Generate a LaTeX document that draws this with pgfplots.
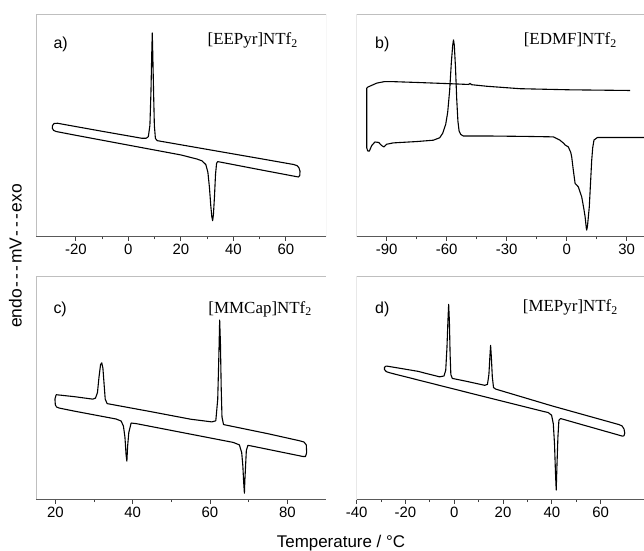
\documentclass[border=0pt]{standalone}
\usepackage{fontspec}
\setmainfont{Liberation Sans}
\newfontfamily\timesf{Liberation Serif}
\usepackage{pgfplots}
\pgfplotsset{compat=1.18}
\pgfplotsset{
  dsc/.style={
    width=290bp, height=223bp, scale only axis,
    ymin=0, ymax=100, ytick=\empty,
    xtick pos=bottom, tick align=outside,
    minor x tick num=1,
    major tick length=4bp, minor tick length=2.5bp,
    tick style={black!75, line width=0.8bp},
    axis line style={draw=none},
    /pgf/number format/assume math mode=true,
    xticklabel style={font=\fontsize{15}{15}\selectfont, black},
    anchor=south west,
  },
  curve/.style={black, line width=1.1bp, line join=round, mark=none},
}
\newcommand{\dscframe}{%
  \draw[gray!50, line width=0.9bp] (rel axis cs:0,0) -- (rel axis cs:0,1) -- (rel axis cs:1,1) -- (rel axis cs:1,0);
  \draw[black!65, line width=1bp] (rel axis cs:0,0) -- (rel axis cs:1,0);
}
\newcommand{\ddd}{\kern1.5bp-\kern2.5bp-\kern2.5bp-\kern1.5bp}
\begin{document}
\begin{tikzpicture}
\useasboundingbox (0bp,0bp) rectangle (644bp,551bp);

% ---------- a) [EEPyr]NTf2
\begin{axis}[dsc, at={(36bp,314bp)}, xmin=-35.2, xmax=75.3, xtick={-20,0,20,40,60}]
\dscframe
\addplot[curve] coordinates {
(-27.0,51.0) (-10,47.4) (5,44.3) (6.8,44.3) (7.6,45.0) (8.2,50) (8.6,65) (8.9,82) (9.1,91.5)
(9.3,82) (9.6,65) (9.9,50) (10.3,44.2) (11,43.2) (30,39.3) (50,35.2) (63.0,32.5)
(64.3,32.0) (65.0,31.0) (65.4,29.5) (65.3,27.6) (64.8,26.9)
(50,30.2) (35,33.6) (34.0,33.8) (33.6,33.0) (33.2,28) (32.8,18) (32.4,10) (32.1,7.3)
(31.8,9) (31.4,14) (30.9,22) (30.3,29) (29.5,32.5) (28.0,34.2) (26,35.0) (20,36.8)
(0,41.2) (-20,45.6) (-27.5,47.3) (-28.5,47.8) (-29.0,48.8) (-28.9,50.0) (-28.3,50.9) (-27.0,51.0)
};
\end{axis}

% ---------- b) [EDMF]NTf2
\begin{axis}[dsc, at={(356.7bp,314bp)}, xmin=-105, xmax=40, xtick={-90,-60,-30,0,30}]
\dscframe
\addplot[curve] coordinates {
(31.65,65.7) (1.65,66.0) (-23.35,66.5) (-40,67.6) (-47.6,68.3) (-48.35,68.9) (-49.0,68.4)
(-60,68.8) (-75,69.3) (-88,69.7) (-91,69.7) (-95,69.0) (-98,67.8) (-99.5,67.2) (-100,66.7)
(-100,50) (-100,40) (-99.5,38.6) (-98.7,38.5) (-97.5,41) (-95.9,42.6) (-94,42.4) (-92.5,41)
(-91.4,40.4) (-90,41.6) (-86.7,42.2) (-75,42.8) (-66.7,43.4) (-63.5,44.5) (-62.0,46.5)
(-60.5,50.5) (-59.5,56) (-58.5,66) (-57.7,78) (-57.0,86) (-56.6,88.4) (-56.2,86) (-55.6,76)
(-55.0,62) (-54.4,52) (-53.8,47.5) (-53.0,46.0) (-51.7,45.3) (-40,45.3) (-20,45.1) (-6.7,44.9)
(-3.35,43.4) (-1.5,42) (-0.85,41.3) (0.8,40.4) (2.0,38) (2.5,35.9) (3.3,30) (4.2,24.0)
(5.8,22.5) (7.5,18.0) (8.5,13) (9.2,9.1) (9.8,4) (10.0,3.1) (10.4,5) (11.3,13.6) (12.5,34.4)
(13.0,40) (13.65,43.5) (15.3,44.6) (40,44.6)
};
\end{axis}

% ---------- c) [MMCap]NTf2
\begin{axis}[dsc, at={(36bp,51.5bp)}, xmin=15, xmax=90, xtick={20,40,60,80}]
\dscframe
\addplot[curve] coordinates {
(20.2,47.0) (25,46.1) (29.7,45.0) (30.4,45.5) (30.9,48) (31.3,55) (31.7,60.5) (32.0,61.3)
(32.3,59) (32.6,52) (32.9,45) (33.4,43.0) (45,39.3) (55,36.0) (60.5,34.8) (61.5,35.3)
(62.0,45) (62.3,65) (62.5,80.5) (62.7,70) (62.9,50) (63.1,37) (63.5,33.6) (75,29.5) (83,26.4)
(84.3,25.8) (84.9,24.5) (85.0,21) (84.7,19.3) (84.0,19.3)
(71,23.9) (69.8,24.3) (69.4,22) (69.2,15) (69.0,8) (68.9,2.8) (68.7,8) (68.5,15) (68.2,21)
(67.6,24.5) (66,25.6) (41,34.0) (39.6,34.3) (39.0,30) (38.7,24) (38.5,17.2) (38.3,20)
(38.0,28) (37.6,33) (37,35.2) (35.7,36.1) (25,39.6) (21,41.0) (20.3,41.5) (20.0,42.5)
(19.9,45) (20.2,47.0)
};
\end{axis}

% ---------- d) [MEPyr]NTf2
\begin{axis}[dsc, at={(356.7bp,51.5bp)}, xmin=-40, xmax=78.9, xtick={-40,-20,0,20,40,60}]
\dscframe
\addplot[curve] coordinates {
(-27.5,59.8) (-15,57.5) (-6,55.0) (-4.2,55.4) (-3.5,58) (-3.0,68) (-2.6,80) (-2.3,87.5)
(-2.0,80) (-1.7,65) (-1.4,56) (-0.8,54.3) (5,53.0) (12.5,51.2) (13.6,51.6) (14.2,56)
(14.6,64) (14.9,69.1) (15.2,64) (15.6,55) (16.1,50.2) (17,49.5) (40,42) (67.5,33.6)
(68.8,33.0) (69.6,31.6) (69.9,29.8) (69.6,28.6) (69.0,28.4)
(50,34.3) (43.6,36.3) (42.9,35.5) (42.5,28) (42.1,15) (41.8,4.2) (41.5,12) (41.1,25)
(40.6,34) (39.9,37.8) (38.5,39.0) (36.5,39.5) (20,44.0) (0,49.5) (-26.4,56.8) (-27.8,57.3)
(-28.6,58.2) (-28.6,59.3) (-28.0,59.8) (-27.5,59.8)
};
\end{axis}

% ---------- panel texts
\begin{scope}[every node/.style={inner sep=0pt}]
\node[anchor=base west, font=\fontsize{16}{16}\selectfont] at (53.3bp,502.7bp) {a)};
\node[anchor=base east, font=\timesf\fontsize{17}{17}\selectfont] at (298bp,506bp) {[EEPyr]NTf\textsubscript{2}};
\node[anchor=base west, font=\fontsize{16}{16}\selectfont] at (375bp,502.7bp) {b)};
\node[anchor=base east, font=\timesf\fontsize{17}{17}\selectfont] at (617bp,506bp) {[EDMF]NTf\textsubscript{2}};
\node[anchor=base west, font=\fontsize{16}{16}\selectfont] at (53.3bp,237.7bp) {c)};
\node[anchor=base east, font=\timesf\fontsize{17}{17}\selectfont] at (312bp,237.7bp) {[MMCap]NTf\textsubscript{2}};
\node[anchor=base west, font=\fontsize{16}{16}\selectfont] at (375bp,237.7bp) {d)};
\node[anchor=base east, font=\timesf\fontsize{17}{17}\selectfont] at (618bp,239.3bp) {[MEPyr]NTf\textsubscript{2}};
\node[anchor=base, font=\fontsize{17}{17}\selectfont] at (341bp,4bp) {Temperature / °C};
\node[anchor=base, rotate=90, font=\fontsize{17.5}{17.5}\selectfont] at (21.7bp,295bp) {endo\ddd mV\ddd exo};
\end{scope}
\end{tikzpicture}
\end{document}
